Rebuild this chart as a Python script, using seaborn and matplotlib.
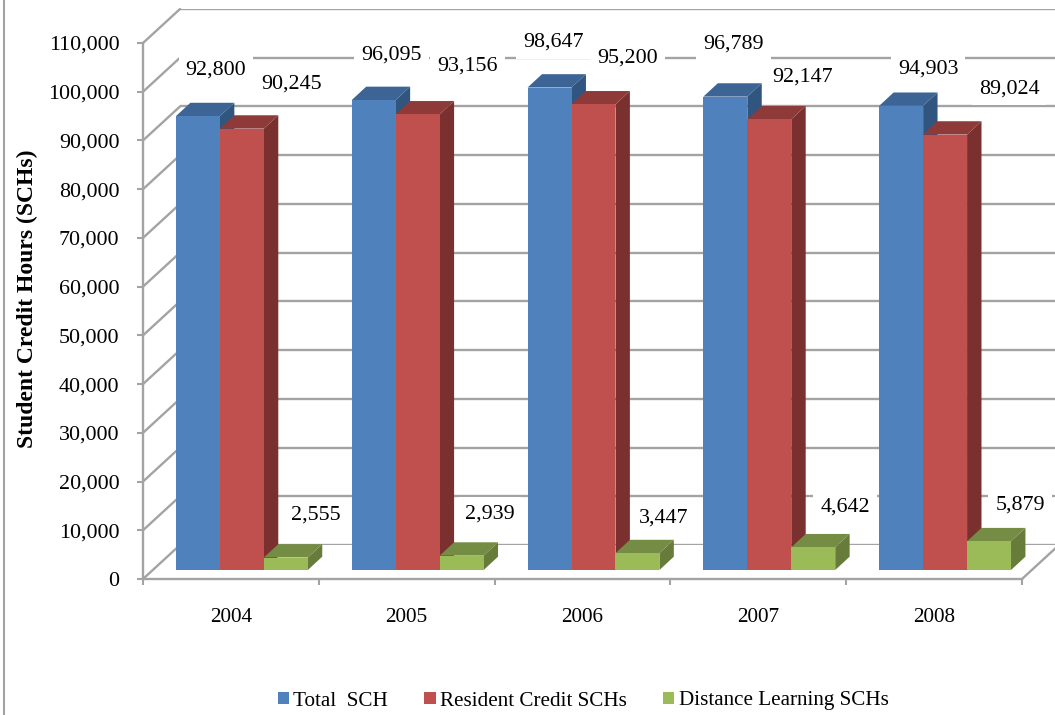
import pandas as pd
import seaborn as sns
from matplotlib import pyplot as plt
from matplotlib.lines import Line2D
from matplotlib.patches import ConnectionPatch, Polygon, Patch

years = ["2004", "2005", "2006", "2007", "2008"]
total_sch = [92800, 96095, 98647, 96789, 94903]
resident_sch = [90245, 93156, 95200, 92147, 89024]
distance_sch = [2555, 2939, 3447, 4642, 5879]
series_names = ["Total  SCH", "Resident Credit SCHs", "Distance Learning SCHs"]
y_ticks = list(range(0, 110001, 10000))

front_colors = ["#4F81BD", "#C0504D", "#9BBB59"]
top_colors = ["#3C6494", "#8E3A38", "#748C43"]
side_colors = ["#30557F", "#7A302F", "#677B3B"]
grid_color = "#A3A3A3"

# label offsets from the top centre of each bar, in pixels
label_dx = [[18, 18, 4, 8, 27], [50, 50, 34, 33, 64], [30, 28, 26, 32, 31]]
label_dy = [[46, 45, 45, 53, 37], [45, 48, 46, 42, 46], [42, 42, 35, 40, 36]]

WIDTH, HEIGHT = 1055, 715
DEPTH_X = 0.082  # in categories
DEPTH_Y = 2730  # in SCHs


def px_axes(fig, left, top, right, bottom, **kwargs):
    return fig.add_axes([left / WIDTH, 1 - bottom / HEIGHT, (right - left) / WIDTH, (bottom - top) / HEIGHT], **kwargs)


def set_limits(ax):
    ax.set_xlim(-0.5, 4.5)
    ax.set_ylim(0, 110000)


sns.set_style("white")
plt.rcParams["font.family"] = ["Liberation Serif", "DejaVu Serif"]
plt.rcParams["text.color"] = "black"
plt.rcParams["axes.labelcolor"] = "black"

data = pd.DataFrame({
    "Year": years * 3,
    "SCH": total_sch + resident_sch + distance_sch,
    "Series": [s for s in series_names for _ in years],
})

fig = plt.figure(figsize=(WIDTH / 100, HEIGHT / 100), dpi=100)

# back wall, only the gridlines are visible
wall = px_axes(fig, 180, 9, 1059, 545, zorder=0)
set_limits(wall)
wall.set_yticks(y_ticks)
wall.set_xticks([])
wall.grid(axis="y", color=grid_color, linewidth=1.7)
wall.tick_params(left=False, labelleft=False)
sns.despine(ax=wall, left=True, bottom=True)
wall.patch.set_visible(False)

# front plane with the axis lines and labels
front = px_axes(fig, 143, 43, 1022, 579, zorder=2)
set_limits(front)
front.patch.set_visible(False)
sns.despine(ax=front)
for side in ["left", "bottom"]:
    front.spines[side].set_color(grid_color)
    front.spines[side].set_linewidth(1.7)
front.set_yticks(y_ticks, [f"{v:,}" for v in y_ticks])
front.set_xticks([i - 0.5 for i in range(6)], [""] * 6)
front.set_xticks(range(5), years, minor=True)
front.tick_params(axis="both", which="major", color=grid_color, width=1.5, length=4, left=True, bottom=True)
front.tick_params(axis="y", labelsize=15.8, pad=13, labelcolor="black")
front.tick_params(axis="x", which="minor", length=0, labelsize=15.3, pad=21, labelcolor="black")
front.set_ylabel("Student Credit Hours (SCHs)", fontsize=17, fontweight="bold")
front.yaxis.set_label_coords(-0.119, 0.522)

# side wall and floor edges
for v in y_ticks:
    fig.add_artist(ConnectionPatch((-0.5, v), (-0.5, v), coordsA=front.transData, coordsB=wall.transData,
                                   color=grid_color, linewidth=1.7, zorder=1))
fig.add_artist(ConnectionPatch((4.5, 0), (4.5, 0), coordsA=front.transData, coordsB=wall.transData,
                               color=grid_color, linewidth=1.7, zorder=1))
fig.add_artist(Line2D([3.5 / WIDTH, 3.5 / WIDTH], [0, 1], color=grid_color, linewidth=1.5))

# bars sit a little inside the floor
bars = px_axes(fig, 154, 32, 1033, 570, zorder=3)
sns.barplot(data, x="Year", y="SCH", hue="Series", hue_order=series_names, palette=front_colors,
            saturation=1, width=0.75, gap=0, errorbar=None, legend=False, linewidth=0, ax=bars)
set_limits(bars)
bars.axis("off")

for s, container in enumerate(bars.containers):
    for i, bar in enumerate(container):
        x0, x1, h = bar.get_x(), bar.get_x() + bar.get_width(), bar.get_height()
        bar.set_zorder(3 + 2 * s)
        bar.set_edgecolor("none")
        side = [(x1, 0), (x1, h), (x1 + DEPTH_X, h + DEPTH_Y), (x1 + DEPTH_X, DEPTH_Y)]
        top = [(x0, h), (x1, h), (x1 + DEPTH_X, h + DEPTH_Y), (x0 + DEPTH_X, h + DEPTH_Y)]
        bars.add_patch(Polygon(side, closed=True, facecolor=side_colors[s], edgecolor="none", zorder=2 + 2 * s, clip_on=False))
        bars.add_patch(Polygon(top, closed=True, facecolor=top_colors[s], edgecolor="none", zorder=2 + 2 * s, clip_on=False))
        bars.annotate(f"{int(h):,}", (x0 + bar.get_width() / 2, h), xytext=(label_dx[s][i], label_dy[s][i]),
                      textcoords="offset pixels", ha="center", va="center", fontsize=15.8, zorder=10,
                      annotation_clip=False, bbox=dict(facecolor="white", edgecolor="none", pad=5))

handles = [Patch(facecolor=c, edgecolor="none", label=n) for c, n in zip(front_colors, series_names)]
fig.legend(handles=handles, loc="center", bbox_to_anchor=(583 / WIDTH, 1 - 701 / HEIGHT), ncol=3, frameon=False,
           fontsize=15.2, handlelength=0.55, handleheight=0.55, handletextpad=0.2, columnspacing=1.7, borderpad=0)

plt.savefig("out.png", dpi=100)
plt.close()
